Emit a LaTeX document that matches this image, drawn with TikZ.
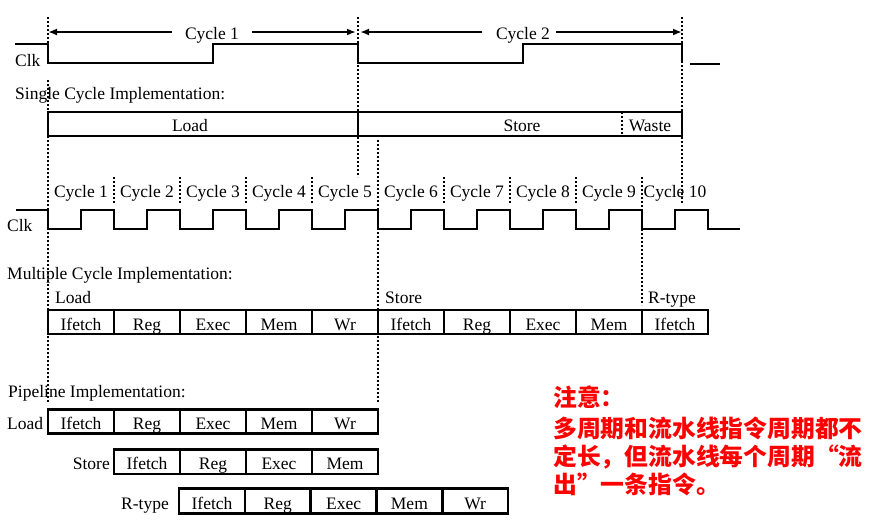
\documentclass[tikz,border=0pt]{standalone}
\usepackage{fontspec}
\setmainfont{Liberation Serif}
\newfontfamily\cjkfont{Noto Sans CJK SC}
\usetikzlibrary{arrows.meta}
\newcommand\mylbl{\fontsize{17.5pt}{20pt}\selectfont}
\begin{document}
\begin{tikzpicture}[x=1pt,y=-1pt,
  every node/.style={inner sep=0pt,font=\mylbl},
  wave/.style={line width=2pt},
  dotln/.style={line width=2pt,dash pattern=on 2pt off 2pt},
  stagebox/.style={line width=2.6pt},
  dimarrow/.style={line width=1.8pt,-{Latex[length=9pt,width=7pt]}},
  note/.style={font={\cjkfont\bfseries\fontsize{23.8pt}{28pt}\selectfont},text=red,anchor=west}
]
\useasboundingbox (0,0) rectangle (873,523);

% ---------- top clock (single cycle) ----------
\draw[wave] (15,44) -- (48,44) -- (48,63) -- (213,63) -- (213,44) -- (358,44) -- (358,63)
  -- (523,63) -- (523,44) -- (682,44) -- (682,62);
\draw[wave] (690,64) -- (720,64);
\node[anchor=base west] (clk1) at (15,66) {Clk};

\node[anchor=base] (cyc1) at (212,39) {Cycle 1};
\node[anchor=base] (cyc2) at (523,39) {Cycle 2};
\coordinate (a1l) at (172,32); \coordinate (a1le) at (48,32);
\coordinate (a1r) at (252,32); \coordinate (a1re) at (356,32);
\coordinate (a2l) at (482,32); \coordinate (a2le) at (360,32);
\coordinate (a2r) at (556,32); \coordinate (a2re) at (682,32);
\draw[dimarrow] (a1l) -- (a1le);
\draw[dimarrow] (a1r) -- (a1re);
\draw[dimarrow] (a2l) -- (a2le);
\draw[dimarrow] (a2r) -- (a2re);

\node[anchor=base west] (single) at (15,99) {Single Cycle Implementation:};
\draw[stagebox] (48,112) rectangle (682,136);
\draw[stagebox] (358,112) -- (358,136);
\draw[dotln] (622,112) -- (622,136);
\node[anchor=base] (sload) at (190,131) {Load};
\node[anchor=base] (sstore) at (522,131) {Store};
\node[anchor=base] (swaste) at (650,131) {Waste};

% ---------- dotted guide lines ----------
\draw[dotln] (48,17) -- (48,63);
\draw[dotln] (48,80) -- (48,402);
\draw[dotln] (358,17) -- (358,177);
\draw[dotln] (378,140) -- (378,402);
\draw[dotln] (682,17) -- (682,203);
\draw[dotln] (642,177) -- (642,305);
\foreach \x in {114,180,246,312,444,510,576}
  \draw[dotln] (\x,177) -- (\x,203);

% ---------- multi-cycle clock ----------
\foreach \n in {1,...,10}
  \node[anchor=base] (mc\n) at ({81+66*(\n-1)},197) {Cycle \n};
\draw[wave] (16,210) \foreach \k in {0,...,9} {
    -- ({48+66*\k},210) -- ({48+66*\k},229) -- ({81+66*\k},229) -- ({81+66*\k},210) }
  -- (708,210) -- (708,229) -- (740,229);
\node[anchor=base west] (clk2) at (7,231) {Clk};

\node[anchor=base west] (multi) at (7,279) {Multiple Cycle Implementation:};
\node[anchor=base west] (mload) at (55,303) {Load};
\node[anchor=base west] (mstore) at (385,303) {Store};
\node[anchor=base west] (mrtype) at (648,303) {R-type};
\foreach \lab [count=\i from 0] in {Ifetch,Reg,Exec,Mem,Wr,Ifetch,Reg,Exec,Mem,Ifetch} {
  \draw[stagebox] ({48+66*\i},310) rectangle ++(66,24);
  \node[anchor=base] (ms\i) at ({81+66*\i},330) {\lab};
}

% ---------- pipeline ----------
\node[anchor=base west] (pipe) at (8,397) {Pipeline Implementation:};
\node[anchor=base west] (pload) at (7,429.5) {Load};
\node[anchor=base east] (pstore) at (110,469.5) {Store};
\node[anchor=base east] (prtype) at (169,509) {R-type};
\foreach \lab [count=\i from 0] in {Ifetch,Reg,Exec,Mem,Wr} {
  \draw[stagebox] ({48+66*\i},409.5) rectangle ++(66,24);
  \node[anchor=base] (pl\i) at ({81+66*\i},429.5) {\lab};
}
\foreach \lab [count=\i from 0] in {Ifetch,Reg,Exec,Mem} {
  \draw[stagebox] ({114+66*\i},449.5) rectangle ++(66,24.5);
  \node[anchor=base] (ps\i) at ({147+66*\i},469.5) {\lab};
}
\foreach \lab [count=\i from 0] in {Ifetch,Reg,Exec,Mem,Wr} {
  \draw[stagebox] ({179+65.8*\i},488.5) rectangle ++(65.8,25);
  \node[anchor=base] (pr\i) at ({212+65.8*\i},509) {\lab};
}

% ---------- note ----------
\node[note] (n1) at (553,397) {注意：};
\node[note] (n2) at (553,428) {多周期和流水线指令周期都不};
\node[note] (n3) at (553,457) {定长，但流水线每个周期“流};
\node[note] (n4) at (553,484) {出”一条指令。};
\end{tikzpicture}
\end{document}
